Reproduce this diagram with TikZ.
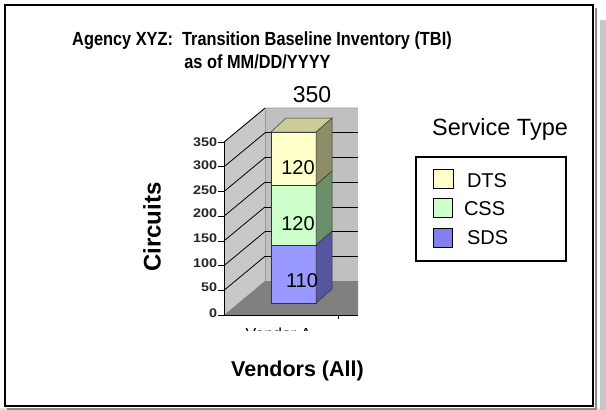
\documentclass[tikz,border=0pt]{standalone}
\usepackage{fontspec}
\usepackage{graphicx}
\setmainfont{Liberation Sans}
\newcommand{\fsz}[1]{\fontsize{#1}{#1}\selectfont}
\definecolor{backwall}{HTML}{C0C0C0}
\definecolor{leftwall}{HTML}{C8C8C8}
\definecolor{floorc}{HTML}{808080}
\definecolor{walledge}{HTML}{9A9A9A}
\definecolor{dtsf}{HTML}{FFFFCC}
\definecolor{dtst}{HTML}{CCCC99}
\definecolor{dtss}{HTML}{8C8C66}
\definecolor{cssf}{HTML}{CCFFCC}
\definecolor{csss}{HTML}{6B8E6B}
\definecolor{sdsf}{HTML}{9999FF}
\definecolor{sdss}{HTML}{5555A0}
\definecolor{sdsleg}{HTML}{8080EE}
\definecolor{shadowc}{HTML}{8A8A8A}
\definecolor{bandc}{HTML}{C8C8C8}
\definecolor{bandb}{HTML}{E2E2E2}
\begin{document}
\begin{tikzpicture}[x=1pt,y=-1pt,
  txt/.style={inner sep=0pt, outer sep=0pt},
  ticklbl/.style={txt, anchor=east, font=\fsz{12.5pt}\bfseries, text=black!85},
  barval/.style={txt, anchor=base, font=\fsz{20pt}},
  legtxt/.style={txt, anchor=base west, font=\fsz{20pt}},
  swatch/.style={draw=black, line width=1pt},
  grid/.style={draw=black, line width=0.8pt},
  baredge/.style={draw=black!80, line width=0.5pt}]
\useasboundingbox (0,0) rectangle (606,410);
% outer frame and shadows
\fill[bandc] (600,20) rectangle (606,410);
\fill[bandb] (0,408) rectangle (600,410);
\draw[shadowc, line width=1.2pt] (596,8) -- (596,409) -- (7,409);
\draw[black, line width=1.6pt] (5,5) rectangle (593,406);
% title
\node[txt, anchor=base, font=\fsz{19pt}\bfseries] (t1) at (262,45) {\scalebox{0.86}[1]{Agency XYZ:\ \ Transition Baseline Inventory (TBI)}};
\node[txt, anchor=base, font=\fsz{19pt}\bfseries] (t2) at (257.5,68) {\scalebox{0.86}[1]{as of MM/DD/YYYY}};
% walls and floor
\fill[backwall] (265,108) rectangle (358,281);
\fill[leftwall] (224,142) -- (265,108) -- (265,281) -- (224,315) -- cycle;
\fill[floorc] (224,315) -- (265,281) -- (358,281) -- (358,315) -- cycle;
\draw[walledge, line width=0.6pt] (224,142) -- (265,108) -- (358,108);
\draw[walledge, line width=0.6pt] (265,108) -- (265,281);
% gridlines
\foreach \v in {50,100,150,200,250,300,350}{
  \pgfmathsetmacro{\yf}{315-0.494*\v}
  \draw[grid] (224,\yf) -- (265,\yf-34);
}
\foreach \v in {50,100,150,200,250,300}{
  \pgfmathsetmacro{\yb}{281-0.494*\v}
  \draw[grid] (265,\yb) -- (358,\yb);
}
% axes
\draw[black, line width=1pt] (224,142) -- (224,315) -- (358,315);
\foreach \v in {0,50,100,150,200,250,300,350}{
  \pgfmathsetmacro{\yf}{315-0.494*\v}
  \draw[black, line width=0.8pt] (218,\yf) -- (224,\yf);
}
\draw[black, line width=0.8pt] (338,315) -- (338,319);
% tick labels
\node[ticklbl] (k350) at (217,142) {\scalebox{1.15}[1]{350}};
\node[ticklbl] (k300) at (217,165) {\scalebox{1.15}[1]{300}};
\node[ticklbl] (k250) at (217,190) {\scalebox{1.15}[1]{250}};
\node[ticklbl] (k200) at (217,213) {\scalebox{1.15}[1]{200}};
\node[ticklbl] (k150) at (217,238) {\scalebox{1.15}[1]{150}};
\node[ticklbl] (k100) at (217,263) {\scalebox{1.15}[1]{100}};
\node[ticklbl] (k50) at (217,287) {\scalebox{1.15}[1]{50}};
\node[ticklbl] (k0) at (217,313) {\scalebox{1.15}[1]{0}};
% bar: SDS
\filldraw[fill=sdsf, baredge] (271,303) rectangle (316,245);
\filldraw[fill=sdss, baredge] (316,303) -- (332,289) -- (332,231) -- (316,245) -- cycle;
% CSS
\filldraw[fill=cssf, baredge] (271,245) rectangle (316,185);
\filldraw[fill=csss, baredge] (316,245) -- (332,231) -- (332,171) -- (316,185) -- cycle;
% DTS
\filldraw[fill=dtsf, baredge] (271,185) rectangle (316,132);
\filldraw[fill=dtss, baredge] (316,185) -- (332,171) -- (332,118) -- (316,132) -- cycle;
\filldraw[fill=dtst, baredge] (271,132) -- (286,118) -- (332,118) -- (316,132) -- cycle;
% bar values
\node[barval] (v1) at (298,174) {120};
\node[barval] (v2) at (298,230) {120};
\node[barval] (v3) at (302,287) {110};
\node[txt, anchor=base, font=\fsz{23pt}] (tot) at (312,102) {350};
% clipped category label
\begin{scope}
\clip (230,327.5) rectangle (330,330.5);
\node[txt, anchor=base, font=\fsz{16pt}] (cat) at (278.5,339) {Vendor A};
\end{scope}
% axis titles
\node[txt, rotate=90, font=\fsz{24pt}\bfseries] (ytitle) at (152,227) {Circuits};
\node[txt, anchor=base, font=\fsz{21.5pt}\bfseries] (xtitle) at (297.5,376) {Vendors (All)};
% legend
\node[txt, anchor=base, font=\fsz{23.5pt}] (legtitle) at (500,135) {Service Type};
\draw[black, line width=1.5pt] (416,157) rectangle (566,261);
\filldraw[swatch, fill=dtsf] (433,169) rectangle (453,188);
\filldraw[swatch, fill=cssf] (433,198) rectangle (452,217);
\filldraw[swatch, fill=sdsleg] (433,228) rectangle (452,247);
\node[legtxt] (ldts) at (467,187) {DTS};
\node[legtxt] (lcss) at (464,215) {CSS};
\node[legtxt] (lsds) at (467,244) {SDS};
\end{tikzpicture}
\end{document}
